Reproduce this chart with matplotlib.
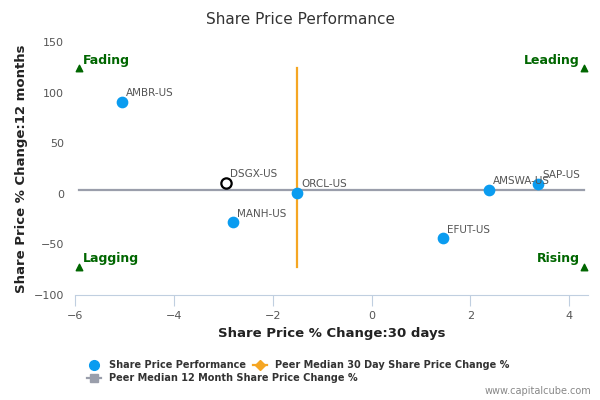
import matplotlib
matplotlib.use("Agg")
import matplotlib.pyplot as plt
from matplotlib.lines import Line2D

plt.rcParams['font.family'] = ['DejaVu Sans']

tickers = ["AMBR-US", "DSGX-US", "ORCL-US", "MANH-US", "EFUT-US", "AMSWA-US", "SAP-US"]
chg_30d = [-5.05, -2.94, -1.51, -2.80, 1.45, 2.38, 3.37]
chg_12m = [91, 11, 1, -28, -44, 4, 10]
highlight = "DSGX-US"

peer_30d = -1.51
peer_30d_span = [-72, 124]
peer_12m = 4
peer_12m_span = [-5.92, 4.3]

quadrants = ["Fading", "Leading", "Lagging", "Rising"]
quad_x = [-5.92, 4.3, -5.92, 4.3]
quad_y = [124, 124, -72, -72]

blue = "#0a9cf0"
orange = "#f5a623"
grey = "#9a9eab"
green = "#006600"

fig = plt.figure(figsize=(6, 4), dpi=100)
ax = fig.add_axes([0.125, 0.2625, 0.855, 0.6325])

ax.plot([peer_30d, peer_30d], peer_30d_span, color=orange, lw=1.6, zorder=2)
ax.plot(peer_12m_span, [peer_12m, peer_12m], color=grey, lw=1.6, zorder=2)

for t, x, y in zip(tickers, chg_30d, chg_12m):
    if t == highlight:
        ax.scatter(x, y, s=55, facecolor="white", edgecolor="black", lw=1.6, zorder=4)
    else:
        ax.scatter(x, y, s=55, color=blue, zorder=3)
    ax.annotate(t, (x, y), xytext=(3, 4), textcoords="offset points",
                fontsize=7.5, color="#555555", zorder=5)

for q, x, y in zip(quadrants, quad_x, quad_y):
    ax.scatter(x, y, marker="^", s=22, color=green, zorder=3)
    if x < 0:
        ax.annotate(q, (x, y), xytext=(3, 3), textcoords="offset points",
                    fontsize=9, fontweight="bold", color=green)
    else:
        ax.annotate(q, (x, y), xytext=(-3, 3), textcoords="offset points",
                    fontsize=9, fontweight="bold", color=green, ha="right")

ax.set_xlim(-6, 4.38)
ax.set_ylim(-100, 150)
ax.set_xticks([-6, -4, -2, 0, 2, 4])
ax.set_yticks([-100, -50, 0, 50, 100, 150])
for s in ["top", "right", "left"]:
    ax.spines[s].set_visible(False)
ax.spines["bottom"].set_color("#c0cfe0")
ax.tick_params(axis="x", colors="#c0cfe0", labelcolor="#555555", labelsize=8, length=8, direction="out")
ax.tick_params(axis="y", length=0, labelcolor="#555555", labelsize=8, pad=8)

ax.set_xlabel("Share Price % Change:30 days", fontsize=9.5, fontweight="bold", color="#222222")
ax.set_ylabel("Share Price % Change:12 months", fontsize=9.5, fontweight="bold", color="#222222")
fig.suptitle("Share Price Performance", x=0.5, y=0.97, fontsize=11, color="#333333")

# column-first fill: SPP & 12M in col 1, 30D in col 2
handles = [
    Line2D([], [], marker="o", ls="none", color=blue, markersize=7),
    Line2D([], [], marker="s", color=grey, markersize=6, lw=1.6),
    Line2D([], [], marker="D", color=orange, markersize=5, lw=1.6),
]
labels = ["Share Price Performance", "Peer Median 12 Month Share Price Change %",
          "Peer Median 30 Day Share Price Change %"]
leg = fig.legend(handles, labels, loc="lower left", bbox_to_anchor=(0.13, 0.02), ncol=2,
                 frameon=False, handlelength=1.5, columnspacing=-10.8,
                 labelspacing=0.3, prop={"weight": "bold", "size": 7})
for txt in leg.get_texts():
    txt.set_color("#333333")
fig.text(0.985, 0.015, "www.capitalcube.com", ha="right", fontsize=7, color="#888888")

fig.savefig("out.png", dpi=100)
